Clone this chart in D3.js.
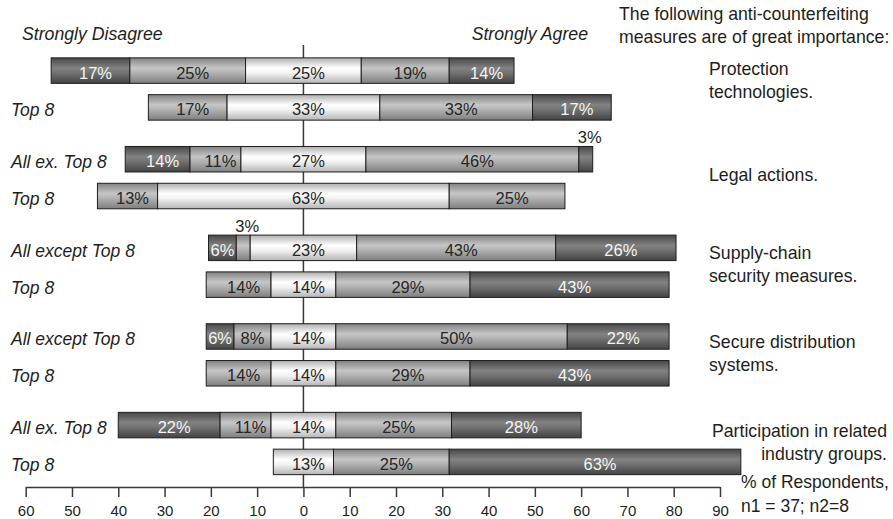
<!DOCTYPE html>
<html>
<head>
<meta charset="utf-8">
<script src="https://cdn.jsdelivr.net/npm/d3@7"></script>
<style>
  body { margin: 0; background: #fff; }
  svg { display: block; font-family: "Liberation Sans", Arial, sans-serif; }
</style>
</head>
<body>
<svg id="chart" width="893" height="519"></svg>
<script>
// Survey measures, each answered by two respondent groups (rows)
const measures = [
  ["Protection", "technologies."],
  ["Legal actions."],
  ["Supply-chain", "security measures."],
  ["Secure distribution", "systems."],
  ["Participation in related", "industry groups."]
];
const rowLabels = [
  "", "Top 8",
  "All ex. Top 8", "Top 8",
  "All except Top 8", "Top 8",
  "All except Top 8", "Top 8",
  "All ex. Top 8", "Top 8"
];
const responses = ["Strongly Disagree", "Disagree", "Neutral", "Agree", "Strongly Agree"];

// Share of respondents (%) per row
const stronglyDisagree = [17, 0, 14, 0, 6, 0, 6, 0, 22, 0];
const disagree         = [25, 17, 11, 13, 3, 14, 8, 14, 11, 0];
const neutral          = [25, 33, 27, 63, 23, 14, 14, 14, 14, 13];
const agree            = [19, 33, 46, 25, 43, 29, 50, 29, 25, 25];
const stronglyAgree    = [14, 17, 3, 0, 26, 43, 22, 43, 28, 63];

const xTicks = [-60, -50, -40, -30, -20, -10, 0, 10, 20, 30, 40, 50, 60, 70, 80, 90];

const title = ["The following anti-counterfeiting", "measures are of great importance:"];
const note = ["% of Respondents,", "n1 = 37; n2=8"];

const svg = d3.select("#chart");
const defs = svg.append("defs");

// Shaded fills for the three tones used by the scale
const tones = {
  dark:  [["0%", "#474747"], ["40%", "#828282"], ["55%", "#767676"], ["100%", "#434343"]],
  mid:   [["0%", "#828282"], ["40%", "#c6c6c6"], ["55%", "#b6b6b6"], ["100%", "#7e7e7e"]],
  light: [["0%", "#b0b0b0"], ["40%", "#ffffff"], ["60%", "#f2f2f2"], ["100%", "#b4b4b4"]]
};
Object.entries(tones).forEach(([name, stops]) => {
  const g = defs.append("linearGradient")
    .attr("id", "tone-" + name)
    .attr("x1", 0).attr("y1", 0).attr("x2", 0).attr("y2", 1);
  stops.forEach(([o, c]) => g.append("stop").attr("offset", o).attr("stop-color", c));
});
const toneOf = d3.scaleOrdinal().domain(responses)
  .range(["dark", "mid", "light", "mid", "dark"]);

// Scales
const x = d3.scaleLinear().domain([-60, 90]).range([25.7, 720]);
const groupY = d3.scalePoint().domain(d3.range(measures.length)).range([89, 443.5]);
const innerY = d3.scalePoint().domain([0, 1]).range([-18.4, 18.4]);
const barH = 25.5;
const rowY = i => groupY(Math.floor(i / 2)) + innerY(i % 2);

// Diverging stack: neutral centred on zero
const rows = rowLabels.map((label, i) => {
  const vals = [stronglyDisagree[i], disagree[i], neutral[i], agree[i], stronglyAgree[i]];
  let pos = -(neutral[i] / 2 + disagree[i] + stronglyDisagree[i]);
  const segs = [];
  vals.forEach((v, k) => {
    if (v > 0) segs.push({ key: responses[k], value: v, x0: pos, x1: pos + v, row: i });
    pos += v;
  });
  return { label, i, segs };
});

// Zero line
svg.append("line")
  .attr("x1", x(0)).attr("x2", x(0))
  .attr("y1", 45).attr("y2", 487)
  .attr("stroke", "#3a3a3a").attr("stroke-width", 1.5);

// Bars
const rowG = svg.selectAll("g.row").data(rows).join("g")
  .attr("class", "row")
  .attr("transform", d => `translate(0,${rowY(d.i)})`);

rowG.selectAll("rect").data(d => d.segs).join("rect")
  .attr("x", d => x(d.x0))
  .attr("y", -barH / 2)
  .attr("width", d => x(d.x1) - x(d.x0))
  .attr("height", barH)
  .attr("fill", d => `url(#tone-${toneOf(d.key)})`)
  .attr("stroke", "#1e1e1e")
  .attr("stroke-width", 1);

// Value labels
rowG.selectAll("text.val").data(d => d.segs).join("text")
  .attr("class", "val")
  .attr("text-anchor", "middle")
  .attr("font-size", 16.5)
  .attr("x", d => {
    const mid = (x(d.x0) + x(d.x1)) / 2;
    const w = x(d.x1) - x(d.x0);
    return mid + (d.value < 5 ? 4 : (w > 40 ? 5 : 0));
  })
  .attr("y", d => d.value < 5 ? -barH / 2 - 3 : 8)
  .attr("fill", d => (d.value >= 5 && toneOf(d.key) === "dark") ? "#f4f4f4" : "#262626")
  .text(d => d.value + "%");

// Row labels
svg.selectAll("text.rowlab").data(rows).join("text")
  .attr("class", "rowlab")
  .attr("x", 11)
  .attr("y", d => rowY(d.i) + 9)
  .attr("font-size", 17.5)
  .attr("font-style", "italic")
  .attr("fill", "#1e1e1e")
  .text(d => d.label);

// Scale end captions
svg.append("text").attr("x", 22).attr("y", 40)
  .attr("font-size", 17.7).attr("font-style", "italic").attr("fill", "#1e1e1e")
  .text(responses[0]);
svg.append("text").attr("x", 588).attr("y", 40).attr("text-anchor", "end")
  .attr("font-size", 17.7).attr("font-style", "italic").attr("fill", "#1e1e1e")
  .text(responses[4]);

// Title
svg.append("g").selectAll("text").data(title).join("text")
  .attr("x", 619).attr("y", (d, k) => 20 + k * 23)
  .attr("font-size", 17.7).attr("fill", "#1e1e1e")
  .text(d => d);

// Measure names on the right
const offsets = [[-14, 9], [3.5], [-7, 16], [-7, 16], [-7, 16]];
measures.forEach((lines, g) => {
  lines.forEach((line, k) => {
    const last = g === measures.length - 1;
    svg.append("text")
      .attr("x", last ? 887 : 709)
      .attr("text-anchor", last ? "end" : "start")
      .attr("y", groupY(g) + offsets[g][k])
      .attr("font-size", 17.7).attr("fill", "#1e1e1e")
      .text(line);
  });
});

// Axis
const axis = svg.append("g")
  .attr("transform", "translate(0,487)")
  .call(d3.axisBottom(x).tickValues(xTicks).tickFormat(d => Math.abs(d))
    .tickSize(10).tickSizeOuter(0).tickPadding(8));
axis.select(".domain").attr("stroke", "#3a3a3a").attr("stroke-width", 1.5);
axis.selectAll(".tick line").attr("stroke", "#3a3a3a").attr("stroke-width", 1.5);
axis.selectAll(".tick text")
  .attr("font-size", 15).attr("fill", "#1e1e1e")
  .attr("font-family", "Liberation Sans, Arial, sans-serif");

// Sample note
svg.append("g").selectAll("text").data(note).join("text")
  .attr("x", 741).attr("y", (d, k) => 488 + k * 24)
  .attr("font-size", 17.5).attr("fill", "#1e1e1e")
  .text(d => d);
</script>
</body>
</html>
